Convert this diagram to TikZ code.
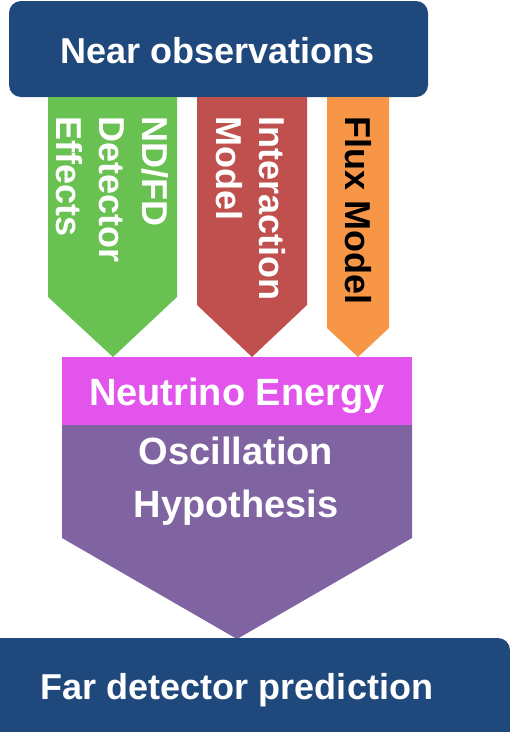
\documentclass[tikz,border=0pt]{standalone}
\usepackage{fontspec}
\setmainfont{Liberation Sans}
\definecolor{navy}{HTML}{1F497D}
\definecolor{grn}{HTML}{68C150}
\definecolor{rd}{HTML}{C0504D}
\definecolor{org}{HTML}{F79646}
\definecolor{mag}{HTML}{E254EC}
\definecolor{prp}{HTML}{8064A2}
\begin{document}
\begin{tikzpicture}[x=1pt,y=-1pt,
  lbl/.style={font=\bfseries\fontsize{36}{53}\selectfont, text=white, inner sep=0pt, align=center},
  big/.style={font=\bfseries\fontsize{38}{53}\selectfont},
  vlbl/.style={font=\bfseries\fontsize{36}{43}\selectfont, text=white, inner sep=0pt, rotate=-90, anchor=north west, align=left}]
\useasboundingbox (0,0) rectangle (510,732);
\begin{scope}
\clip (0,0) rectangle (510,732);
\fill[navy, rounded corners=12pt] (9,1) rectangle (428,97);
\fill[grn] (48,97) -- (177,97) -- (177,297) -- (113,357) -- (48,297) -- cycle;
\fill[rd] (197,97) -- (307,97) -- (307,305) -- (252,357) -- (197,305) -- cycle;
\fill[org] (327,97) -- (389,97) -- (389,328) -- (358,357) -- (327,328) -- cycle;
\fill[mag] (62,357) rectangle (412,425);
\fill[prp] (62,425) -- (412,425) -- (412,538) -- (237,639) -- (62,538) -- cycle;
\fill[navy, rounded corners=12pt] (-20,638) rectangle (510,760);
\end{scope}
\node[lbl, anchor=base] (near) at (218,63) {Near observations};
\node[vlbl] (det) at (169,116) {ND/FD\\Detector\\Effects};
\node[vlbl] (int) at (286,116) {Interaction\\Model};
\node[vlbl, text=black] (flux) at (372,116) {Flux Model};
\node[lbl, big, anchor=base] (nu) at (237,405) {Neutrino Energy};
\node[lbl, big, anchor=base] (osc) at (236,464) {Oscillation};
\node[lbl, big, anchor=base] (hyp) at (236,517) {Hypothesis};
\node[lbl, anchor=base] (far) at (237,699) {Far detector prediction};
\end{tikzpicture}
\end{document}
